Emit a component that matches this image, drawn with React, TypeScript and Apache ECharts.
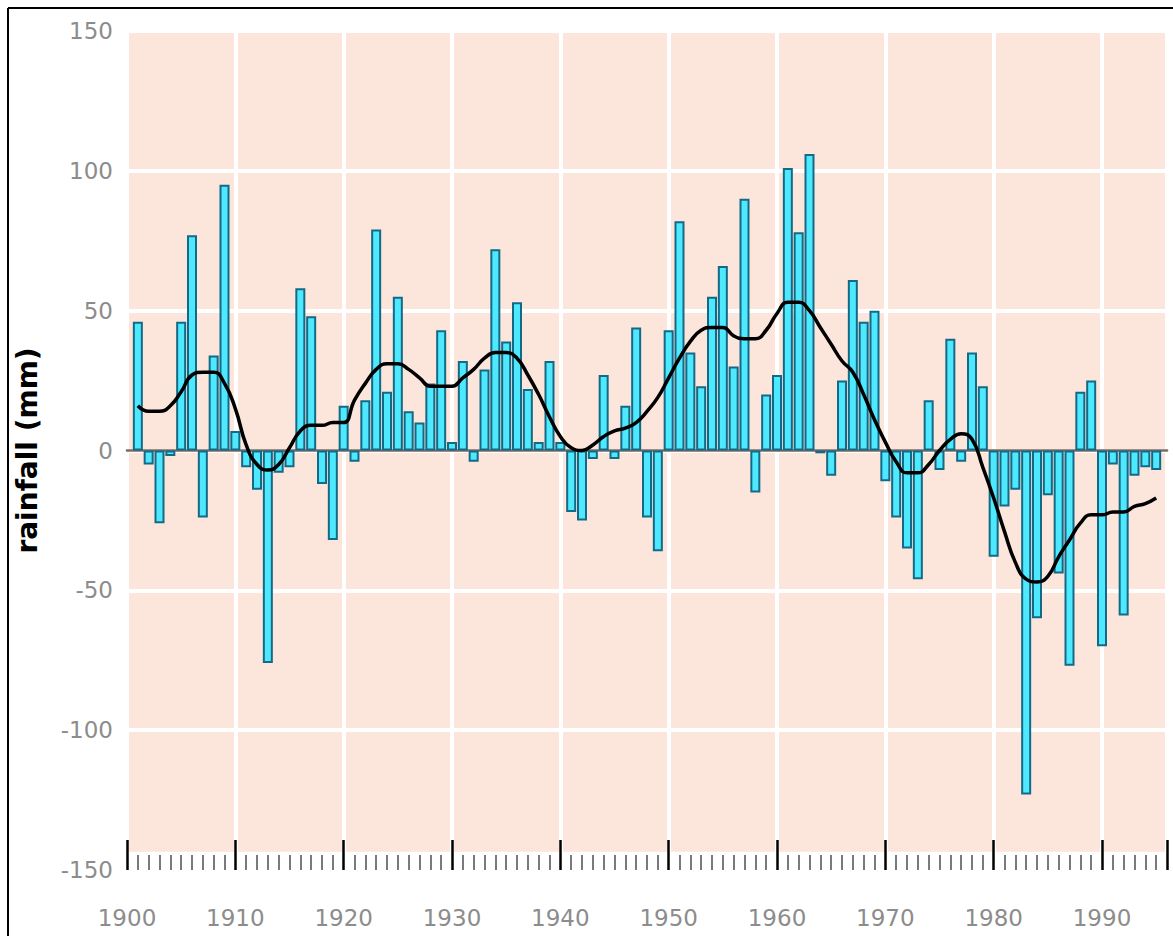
import React, { useEffect, useRef } from "react";
import * as echarts from "echarts";

const startYear = 1901;

// annual rainfall anomaly (mm), 1901–1995
const rainfallAnomaly = [
  46, -5, -26, -2, 46, 77, -24, 34, 95, 7,
  -6, -14, -76, -8, -6, 58, 48, -12, -32, 16,
  -4, 18, 79, 21, 55, 14, 10, 24, 43, 3,
  32, -4, 29, 72, 39, 53, 22, 3, 32, 3,
  -22, -25, -3, 27, -3, 16, 44, -24, -36, 43,
  82, 35, 23, 55, 66, 30, 90, -15, 20, 27,
  101, 78, 106, -1, -9, 25, 61, 46, 50, -11,
  -24, -35, -46, 18, -7, 40, -4, 35, 23, -38,
  -20, -14, -123, -60, -16, -44, -77, 21, 25, -70,
  -5, -59, -9, -6, -7,
];

// smoothed curve (mm), 1901–1995
const smoothed = [
  16, 14, 14, 16, 21, 27, 28, 28, 24, 15,
  2, -5, -7, -5, 1, 7, 9, 9, 10, 10,
  18, 24, 29, 31, 31, 29, 26, 23, 23, 23,
  26, 29, 33, 35, 35, 33, 27, 20, 12, 5,
  1, 0, 2, 5, 7, 8, 10, 14, 19, 26,
  33, 39, 43, 44, 44, 41, 40, 40, 43, 49,
  53, 53, 50, 44, 38, 32, 28, 20, 11, 3,
  -4, -8, -8, -5, 0, 4, 6, 4, -6, -17,
  -29, -40, -46, -47, -45, -38, -32, -26, -23, -23,
  -22, -22, -20, -19, -17,
];

const yTicks = [-150, -100, -50, 0, 50, 100, 150];
const xLabels = ["1900", "1910", "1920", "1930", "1940", "1950", "1960", "1970", "1980", "1990"];
const yAxisTitle = "rainfall (mm)";

export default function App() {
  const ref = useRef<HTMLDivElement>(null);

  useEffect(() => {
    if (!ref.current) return;
    const chart = echarts.init(ref.current, null, { renderer: "svg" });
    const barData = rainfallAnomaly.map((v, i) => [startYear + i, v]);
    const lineData = smoothed.map((v, i) => [startYear + i, v]);
    const labelSet = new Set(xLabels);

    chart.setOption({
      animation: false,
      backgroundColor: "#ffffff",
      grid: {
        left: 127,
        right: 6,
        top: 31,
        bottom: 66,
        containLabel: false,
        outerBoundsMode: "none",
        show: true,
        backgroundColor: "#fce5da",
        borderWidth: 0,
      },
      graphic: [
        { type: "line", shape: { x1: 8, y1: 8, x2: 1173, y2: 8 }, style: { stroke: "#000", lineWidth: 2 }, z: 100 },
        { type: "line", shape: { x1: 8, y1: 8, x2: 8, y2: 936 }, style: { stroke: "#000", lineWidth: 2 }, z: 100 },
      ],
      xAxis: [
        {
          type: "value",
          min: 1900,
          max: 1996,
          interval: 10,
          position: "bottom",
          axisLine: { show: true, onZero: true, lineStyle: { color: "#7d6a60", width: 2.5 } },
          axisTick: { show: false },
          axisLabel: { show: false },
          splitLine: { show: true, lineStyle: { color: "#ffffff", width: 4 } },
        },
        {
          type: "value",
          min: 1900,
          max: 1996,
          interval: 10,
          position: "bottom",
          z: 10,
          axisLine: {
            show: true,
            onZero: false,
            lineStyle: { color: "#000000", width: 3, shadowColor: "#bdbdbd", shadowOffsetY: 4, shadowBlur: 0 },
          },
          axisTick: { show: true, inside: true, length: 30, lineStyle: { color: "#000000", width: 2.5 } },
          minorTick: { show: true, splitNumber: 10, length: 15, lineStyle: { color: "#4a4f55", width: 1.5 } },
          axisLabel: {
            show: true,
            margin: 36,
            color: "#8c8c8c",
            fontSize: 23,
            fontFamily: "DejaVu Sans",
            formatter: (v: number) => (labelSet.has(String(v)) ? String(v) : ""),
          },
          splitLine: { show: false },
        },
      ],
      yAxis: {
        type: "value",
        min: -150,
        max: 150,
        interval: 50,
        axisLine: { show: false },
        axisTick: { show: false },
        axisLabel: {
          margin: 14,
          color: "#8c8c8c",
          fontSize: 23,
          fontFamily: "DejaVu Sans",
          formatter: (v: number) => (yTicks.includes(v) ? String(v) : ""),
        },
        splitLine: { show: true, lineStyle: { color: "#ffffff", width: 4 } },
        name: yAxisTitle,
        nameLocation: "middle",
        nameRotate: 90,
        nameGap: 86,
        nameTextStyle: { color: "#000000", fontWeight: "bold", fontSize: 28, fontFamily: "DejaVu Sans" },
      },
      series: [
        {
          type: "bar",
          xAxisIndex: 0,
          data: barData,
          barWidth: 10,
          itemStyle: { color: "#4fe9ff", borderColor: "#146a86", borderWidth: 2 },
          markArea: {
            silent: true,
            itemStyle: { color: "#ffffff" },
            data: [[{ yAxis: -150 }, { yAxis: -143.5 }]],
          },
        },
        {
          type: "line",
          xAxisIndex: 0,
          data: lineData,
          smooth: true,
          showSymbol: false,
          lineStyle: { color: "#000000", width: 3.5 },
          z: 5,
        },
      ],
    });

    return () => chart.dispose();
  }, []);

  return (
    <div
      ref={ref}
      style={{ position: "fixed", left: 0, top: 0, width: 1173, height: 936 }}
    />
  );
}
